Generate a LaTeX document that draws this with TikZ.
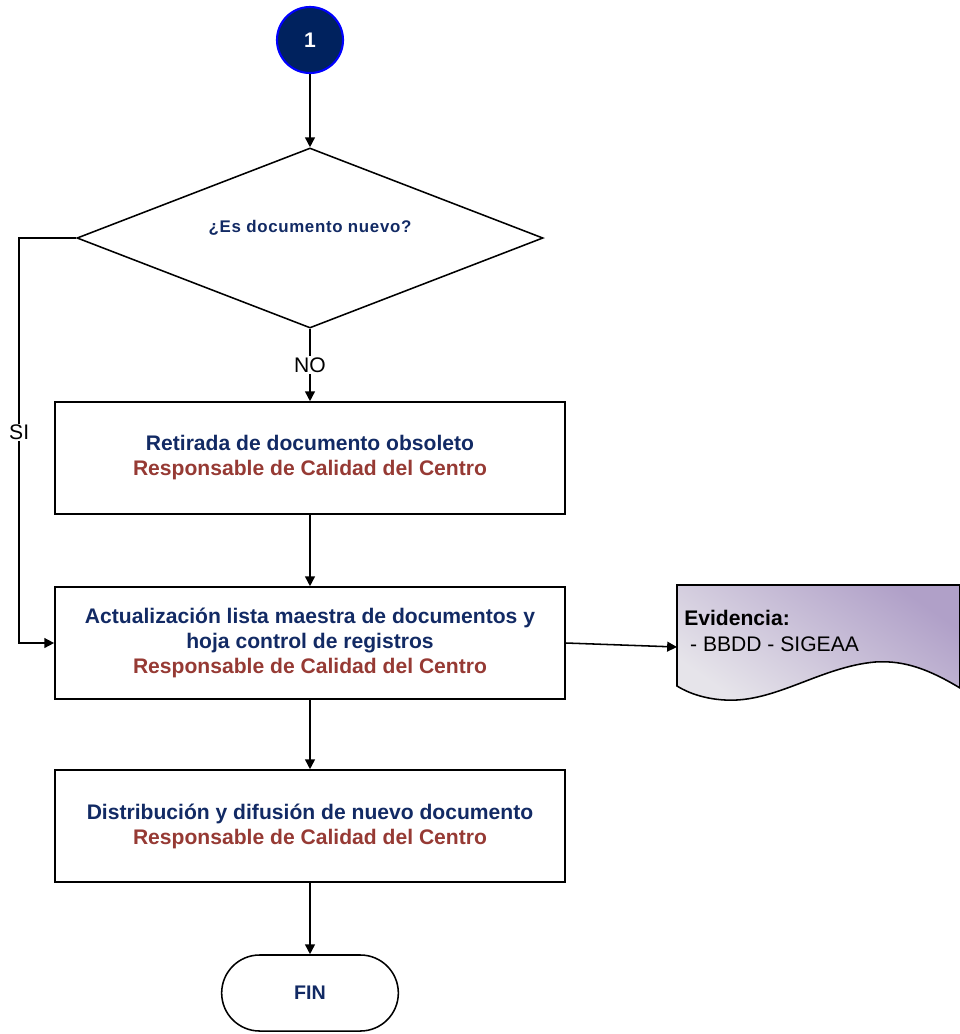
\documentclass[tikz,border=0pt]{standalone}
\usepackage{fontspec}
\setmainfont{Liberation Sans}
\usetikzlibrary{shapes.geometric,shapes.misc,arrows.meta}
\definecolor{azul}{RGB}{18,42,100}
\definecolor{granate}{RGB}{150,58,52}
\definecolor{circulo}{RGB}{0,34,94}
\definecolor{lila}{RGB}{176,160,200}
\definecolor{grisclaro}{RGB}{230,228,234}
\tikzset{
	flecha/.style={-{Triangle[length=7pt,width=7pt]},line width=1.1pt},
	caja/.style={draw,line width=1.1pt,minimum width=12.75cm,minimum height=2.8cm,align=center,
		font=\fontsize{15}{17.8}\selectfont\bfseries,text=azul},
	etiqueta/.style={fill=white,inner sep=1pt,font=\fontsize{15}{17}\selectfont}
}
\begin{document}
\begin{tikzpicture}[x=0.025cm,y=-0.025cm]
	\useasboundingbox (0,0) rectangle (960,1034);
	\node[circle,fill=circulo,draw=blue,line width=1.5pt,minimum size=1.65cm,inner sep=0pt,
		text=white,font=\fontsize{15}{18}\selectfont\bfseries] (uno) at (310,40) {1};
	\node[diamond,draw,line width=1.1pt,minimum width=11.65cm,minimum height=4.5cm,inner sep=0pt,
		label={[yshift=0.25cm,text=azul,font=\fontsize{12}{14}\selectfont\bfseries\addfontfeatures{LetterSpace=4}]center:¿Es documento nuevo?}]
		(nuevo) at (310,238) {};
	\node[caja] (retirada) at (310,458) {Retirada de documento obsoleto\\ \textcolor{granate}{Responsable de Calidad del Centro}};
	\node[caja] (lista) at (310,643) {Actualización lista maestra de documentos y\\ hoja control de registros\\ \textcolor{granate}{Responsable de Calidad del Centro}};
	\node[caja] (difusion) at (310,826) {Distribución y difusión de nuevo documento\\ \textcolor{granate}{Responsable de Calidad del Centro}};
	\node[rounded rectangle,draw,line width=1.1pt,minimum width=4.65cm,minimum height=1.9cm,
		text=azul,font=\fontsize{14}{16}\selectfont\bfseries] (fin) at (310,993) {FIN};
	% evidencia
	\shade[top color=lila,bottom color=grisclaro,shading angle=-35,draw,line width=1.1pt]
		(677,585) -- (960,585) -- (960,688)
		.. controls (930,670) and (905,660) .. (875,662)
		.. controls (820,667) and (775,703) .. (725,700)
		.. controls (705,699) and (688,693) .. (677,686) -- cycle;
	\coordinate (ev) at (677,647);
	\node[anchor=north west,align=left,inner sep=0pt,font=\fontsize{15}{18.5}\selectfont] (evid) at (684,610)
		{\textbf{Evidencia:}\\ \ - BBDD - SIGEAA};
	\draw[flecha] (uno) -- (nuevo.north);
	\draw[flecha] (nuevo.south) -- node[etiqueta]{NO} (retirada.north);
	\draw[flecha] (nuevo.west) -- ++(-57,0) |- node[pos=0.24,etiqueta]{SI} (lista.west);
	\draw[flecha] (retirada) -- (lista);
	\draw[flecha] (lista.east) -- (ev);
	\draw[flecha] (lista) -- (difusion);
	\draw[flecha] (difusion) -- (fin);
	%\draw (0,0) rectangle (960,1034);
\end{tikzpicture}
\end{document}
